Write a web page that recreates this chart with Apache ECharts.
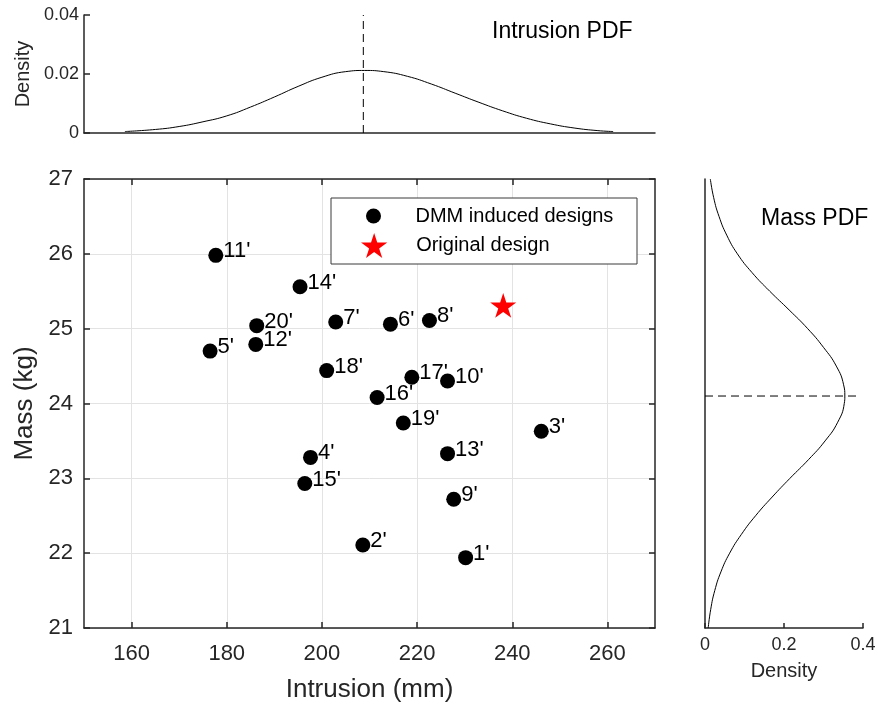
<!DOCTYPE html>
<html>
<head>
<meta charset="utf-8">
<script src="https://cdn.jsdelivr.net/npm/echarts@6.0.0/dist/echarts.min.js"></script>
<style>
html,body{margin:0;padding:0;background:#fff;}
#chart{width:875px;height:702px;}
</style>
</head>
<body>
<div id="chart"></div>
<script>
// ---- data ----
const designLabels = ["1'","2'","3'","4'","5'","6'","7'","8'","9'","10'","11'","12'","13'","14'","15'","16'","17'","18'","19'","20'"];
const designIntrusion = [230.2,208.6,246.1,197.6,176.5,214.4,202.9,222.6,227.7,226.4,177.7,186.1,226.4,195.4,196.4,211.6,218.9,201.0,217.1,186.3];
const designMass = [21.94,22.11,23.63,23.28,24.70,25.06,25.09,25.11,22.72,24.30,25.98,24.79,23.33,25.56,22.93,24.08,24.35,24.44,23.74,25.04];
const originalIntrusion = [238.1];
const originalMass = [25.31];

const intrusionTicks = [160,180,200,220,240,260];

// Intrusion PDF
const intrusionPdfX = [158.6,165,170,175,180,185,190,195,200,205,209,213,218,223,228,233,238,243,248,253,258,261.2];
const intrusionPdfY = [0.0005,0.0012,0.0022,0.0038,0.0058,0.0088,0.0122,0.0158,0.0189,0.0208,0.0212,0.0208,0.0192,0.0166,0.0135,0.0104,0.0075,0.0050,0.0031,0.0017,0.0008,0.0005];
const intrusionMean = 208.7;

// Mass PDF
const massPdfMass = [21,21.25,21.5,21.75,22,22.25,22.5,22.75,23,23.25,23.5,23.75,24,24.1,24.25,24.5,24.75,25,25.25,25.5,25.75,26,26.25,26.5,26.75,27];
const massPdfDensity = [0.0081,0.0145,0.0247,0.0403,0.0624,0.0920,0.1280,0.1700,0.2150,0.2620,0.3040,0.3360,0.3526,0.3540,0.3509,0.3324,0.3000,0.2600,0.2130,0.1640,0.1190,0.0820,0.0550,0.0355,0.0220,0.0135];
const massMean = 24.1;
const massDashEnd = 0.385;

// ---- chart ----
const FONT = "'Liberation Sans', Arial, Helvetica, sans-serif";
const AX = '#262626';
const GRIDC = '#e3e3e3';
const STAR = 'path://M100,0 L122.45,69.1 L195.11,69.1 L136.33,111.8 L158.78,180.9 L100,138.2 L41.22,180.9 L63.67,111.8 L4.89,69.1 L77.55,69.1 Z';

const axLine = {show:true, onZero:false, lineStyle:{color:AX, width:1.5}};

const designData = designLabels.map((n,i)=>({name:n, value:[designIntrusion[i], designMass[i]]}));
const originalData = originalIntrusion.map((x,i)=>[x, originalMass[i]]);
const topCurve = intrusionPdfX.map((x,i)=>[x, intrusionPdfY[i]]);
const rightCurve = massPdfMass.map((m,i)=>[massPdfDensity[i], m]);

const chart = echarts.init(document.getElementById('chart'), null, {renderer:'canvas'});
chart.setOption({
  animation:false,
  backgroundColor:'#fff',
  textStyle:{fontFamily:FONT},
  title:[
    {text:'Intrusion PDF', left:492, top:20, padding:0, textStyle:{fontFamily:FONT, fontSize:23, fontWeight:'normal', color:'#000'}},
    {text:'Mass PDF', left:761, top:207, padding:0, textStyle:{fontFamily:FONT, fontSize:23, fontWeight:'normal', color:'#000'}}
  ],
  grid:[
    {left:84, top:15, width:571, height:118, containLabel:false, outerBoundsMode:'none'},
    {left:84, top:179, width:571, height:449, containLabel:false, outerBoundsMode:'none'},
    {left:705, top:179, width:158, height:449, containLabel:false, outerBoundsMode:'none'}
  ],
  legend:[
    {data:[{name:'DMM induced designs', icon:'circle'}], left:366, top:206, padding:0, orient:'vertical',
     itemWidth:74, itemHeight:15, selectedMode:false, z:6,
     textStyle:{fontFamily:FONT, fontSize:20, color:'#000'}},
    {data:[{name:'Original design', icon:STAR}], left:361, top:233, padding:0, orient:'vertical',
     itemWidth:74, itemHeight:25, selectedMode:false, z:6,
     textStyle:{fontFamily:FONT, fontSize:20, color:'#000'}}
  ],
  graphic:[
    {type:'rect', shape:{x:331, y:198, width:306, height:66}, style:{fill:'#fff', stroke:'#3a3a3a', lineWidth:1}, z:3}
  ],
  xAxis:[
    {gridIndex:0, type:'value', min:150, max:270, axisLine:axLine, axisTick:{show:false}, axisLabel:{show:false}, splitLine:{show:false}},
    {gridIndex:1, type:'value', min:150, max:270, position:'bottom', axisLine:axLine,
     axisTick:{show:true, inside:true, length:6, lineStyle:{color:AX, width:1.5}, customValues:intrusionTicks},
     axisLabel:{show:true, customValues:intrusionTicks, fontSize:22, margin:15, color:AX, fontFamily:FONT},
     splitLine:{show:true, lineStyle:{color:GRIDC, width:1}},
     name:'Intrusion (mm)', nameLocation:'middle', nameGap:49, nameTextStyle:{fontSize:26, color:AX, fontFamily:FONT}},
    {gridIndex:1, type:'value', min:150, max:270, position:'top', axisLine:axLine,
     axisTick:{show:true, inside:true, length:6, lineStyle:{color:AX, width:1.5}, customValues:intrusionTicks},
     axisLabel:{show:false}, splitLine:{show:false}},
    {gridIndex:2, type:'value', min:0, max:0.4, interval:0.2, position:'bottom', axisLine:axLine,
     axisTick:{show:true, inside:true, length:5, lineStyle:{color:AX, width:1.5}},
     axisLabel:{show:true, fontSize:18, margin:8, color:AX, fontFamily:FONT},
     splitLine:{show:false},
     name:'Density', nameLocation:'middle', nameGap:33, nameTextStyle:{fontSize:20, color:AX, fontFamily:FONT}}
  ],
  yAxis:[
    {gridIndex:0, type:'value', min:0, max:0.04, interval:0.02, axisLine:axLine,
     axisTick:{show:true, inside:true, length:6, lineStyle:{color:AX, width:1.5}},
     axisLabel:{show:true, fontSize:18, margin:5, color:AX, fontFamily:FONT},
     splitLine:{show:false},
     name:'Density', nameLocation:'middle', nameGap:41, nameTextStyle:{fontSize:20, color:AX, fontFamily:FONT}},
    {gridIndex:1, type:'value', min:21, max:27, interval:1, position:'left', axisLine:axLine,
     axisTick:{show:true, inside:true, length:6, lineStyle:{color:AX, width:1.5}},
     axisLabel:{show:true, fontSize:22, margin:11, color:AX, fontFamily:FONT},
     splitLine:{show:true, lineStyle:{color:GRIDC, width:1}},
     name:'Mass (kg)', nameLocation:'middle', nameGap:41, nameTextStyle:{fontSize:26, color:AX, fontFamily:FONT}},
    {gridIndex:1, type:'value', min:21, max:27, interval:1, position:'right', axisLine:axLine,
     axisTick:{show:true, inside:true, length:6, lineStyle:{color:AX, width:1.5}},
     axisLabel:{show:false}, splitLine:{show:false}},
    {gridIndex:2, type:'value', min:21, max:27, position:'left', axisLine:axLine,
     axisTick:{show:false}, axisLabel:{show:false}, splitLine:{show:false}}
  ],
  series:[
    {name:'DMM induced designs', type:'scatter', xAxisIndex:1, yAxisIndex:1, data:designData,
     symbol:'circle', symbolSize:15, itemStyle:{color:'#000', opacity:1}, z:4,
     label:{show:true, position:'right', distance:0, offset:[0,-4], formatter:p=>p.name,
            fontSize:22, color:'#000', fontFamily:FONT}},
    {name:'Original design', type:'scatter', xAxisIndex:1, yAxisIndex:1, data:originalData,
     symbol:STAR, symbolSize:26, symbolKeepAspect:true, itemStyle:{color:'#ff0000', opacity:1}, z:4},
    {type:'line', xAxisIndex:0, yAxisIndex:0, data:topCurve, smooth:true, showSymbol:false,
     lineStyle:{color:'#000', width:1}},
    {type:'line', xAxisIndex:0, yAxisIndex:0, data:[[intrusionMean,0],[intrusionMean,0.04]], showSymbol:false,
     lineStyle:{color:'#000', width:1, type:[8,5]}},
    {type:'line', xAxisIndex:3, yAxisIndex:3, data:rightCurve, smooth:true, showSymbol:false,
     lineStyle:{color:'#000', width:1}},
    {type:'line', xAxisIndex:3, yAxisIndex:3, data:[[0,massMean],[massDashEnd,massMean]], showSymbol:false,
     lineStyle:{color:'#000', width:1, type:[8,5]}}
  ]
});
</script>
</body>
</html>
